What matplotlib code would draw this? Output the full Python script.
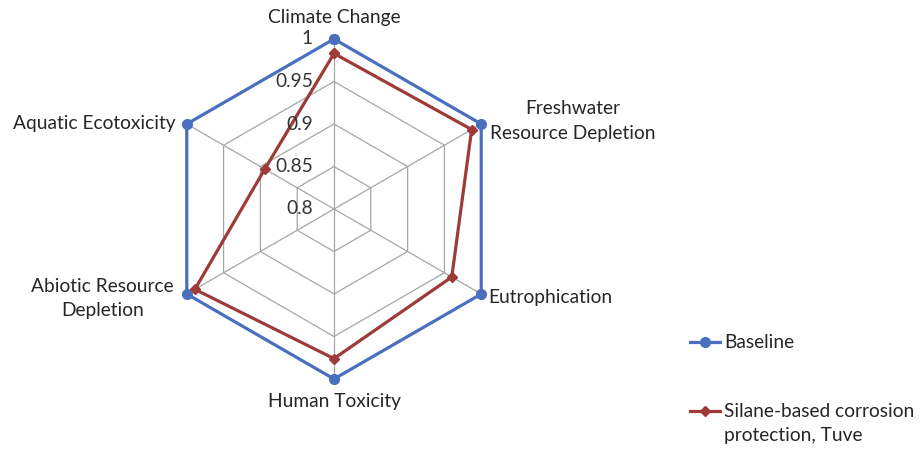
import numpy as np
import matplotlib
matplotlib.use("Agg")
import matplotlib.pyplot as plt
from matplotlib.transforms import offset_copy
from matplotlib.lines import Line2D

categories = ["Climate Change", "Freshwater\nResource Depletion", "Eutrophication",
              "Human Toxicity", "Abiotic Resource\nDepletion", "Aquatic Ecotoxicity"]
baseline = [1.0, 1.0, 1.0, 1.0, 1.0, 1.0]
silane = [0.983, 0.987, 0.960, 0.976, 0.989, 0.894]
rings = [0.85, 0.9, 0.95, 1.0]
tick_labels = ["0.8", "0.85", "0.9", "0.95", "1"]
tick_values = [0.8, 0.85, 0.9, 0.95, 1.0]
series_names = ["Baseline", "Silane-based corrosion\nprotection, Tuve"]

BLUE = "#4A6FBF"
RED = "#9E3A38"
GRID = "#A6A6A6"
FONT = "Lato"
FS = 13.8
LS = 1.5

fig = plt.figure(figsize=(9.22, 4.49), dpi=100)
ax = fig.add_axes([164/922, 70/449, 340/922, 340/449], projection="polar")
ax.set_theta_offset(np.pi/2)
ax.set_theta_direction(-1)
ax.set_rlim(0.8, 1.0)
ax.grid(False)
ax.set_xticks([])
ax.set_yticks([])
ax.spines["polar"].set_visible(False)
ax.patch.set_alpha(0)

n = len(categories)
theta = np.arange(n) * 2*np.pi/n
tc = np.append(theta, theta[0])

# grid
for r in rings:
    ax.plot(tc, [r]*(n+1), color=GRID, lw=0.9, zorder=1, clip_on=False)
for t in theta:
    ax.plot([t, t], [0.8, 1.0], color=GRID, lw=0.9, zorder=1, clip_on=False)

ax.plot(tc, baseline + baseline[:1], color=BLUE, lw=2.3, marker="o", ms=7,
        zorder=3, clip_on=False)
ax.plot(tc, silane + silane[:1], color=RED, lw=2.3, marker="D", ms=5.5,
        zorder=4, clip_on=False)

# tick labels
for v, lab in zip(tick_values, tick_labels):
    tr = offset_copy(ax.transData, fig=fig, x=-21, y=0, units="dots")
    ax.text(0, v, lab, transform=tr, ha="right", va="center", fontsize=FS,
            family=FONT, color="#333333", zorder=5)

# category labels
offsets = [(0, 21, "center"), (92, 3, "center"), (7, -3, "left"),
           (0, -23, "center"), (-84, -4, "center"), (-11, 0, "right")]
for t, lab, (dx, dy, ha) in zip(theta, categories, offsets):
    tr = offset_copy(ax.transData, fig=fig, x=dx, y=dy, units="dots")
    ax.text(t, 1.0, lab, transform=tr, ha=ha, va="center", fontsize=FS,
            family=FONT, color="#262626", linespacing=LS, multialignment="center")

# legend
W, H = 922, 449
def fx(x): return x / W
def fy(y): return 1 - y / H
for (y, color, mk, ms), name in zip([(342, BLUE, "o", 7), (411, RED, "D", 5.5)], series_names):
    fig.add_artist(Line2D([fx(690), fx(720)], [fy(y), fy(y)], color=color, lw=2.3,
                          transform=fig.transFigure))
    fig.add_artist(Line2D([fx(705)], [fy(y)], color=color, marker=mk, ms=ms,
                          transform=fig.transFigure))
    fig.text(fx(724), fy(y - 8) if "\n" in name else fy(y), name, ha="left",
             va="top" if "\n" in name else "center",
             fontsize=FS, family=FONT, color="#262626", linespacing=LS,
             transform=fig.transFigure)

fig.savefig("out.png", dpi=100)
